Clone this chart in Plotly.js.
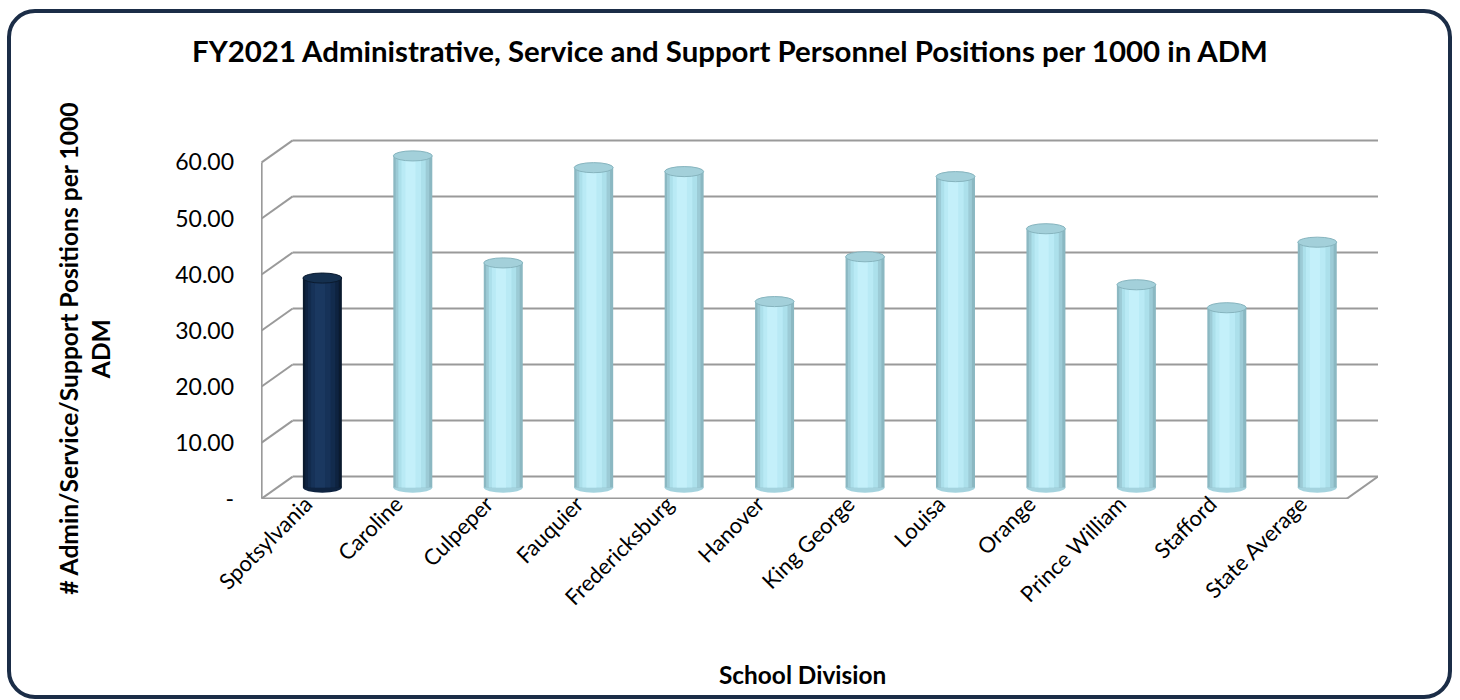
<!DOCTYPE html>
<html>
<head>
<meta charset="utf-8">
<script src="https://cdn.plot.ly/plotly-3.0.1.min.js"></script>
<style>
  html, body { margin: 0; padding: 0; background: #ffffff; }
  #wrap { position: relative; width: 1460px; height: 700px; }
  #chart { width: 1460px; height: 700px; }
  #frame { position: absolute; left: 7px; top: 9px; width: 1437px; height: 682px;
           border: 4px solid #1b2d47; border-radius: 28px; pointer-events: none; }
</style>
</head>
<body>
<div id="wrap"><div id="chart"></div><div id="frame"></div></div>
<script>
// ---- data ----
const categories = ['Spotsylvania', 'Caroline', 'Culpeper', 'Fauquier', 'Fredericksburg', 'Hanover',
                    'King George', 'Louisa', 'Orange', 'Prince William', 'Stafford', 'State Average'];
const positionsPer1000 = [37.4, 59.2, 40.1, 57.1, 56.4, 33.2, 41.2, 55.5, 46.2, 36.2, 32.1, 43.8];
const tickValues = [0, 10, 20, 30, 40, 50, 60];
const tickLabels = ['-', '10.00', '20.00', '30.00', '40.00', '50.00', '60.00'];
const highlighted = 'Spotsylvania';
const chartTitle = 'FY2021 Administrative, Service and Support Personnel Positions per 1000 in ADM';
const yTitle = '# Admin/Service/Support Positions per 1000<br>ADM';
const xTitle = 'School Division';

// ---- 3-D look (styling only) ----
const DEPTH_X = -0.343;   // category units, back wall -> front edge
const DEPTH_Y = -3.93;    // value units, back wall -> front edge
const MID_X = DEPTH_X / 2, MID_Y = DEPTH_Y / 2;
const BAR_W = 0.431;
const CAP_H = 0.9;
const FONT = 'Lato, "Open Sans", sans-serif';

const isHi = categories.map(c => c === highlighted);
const slices = [
  { f: 1.00, c: -0.00, light: '#8bb8c2', dark: '#0a1a2e' },
  { f: 0.86, c: -0.01, light: '#9ccbd6', dark: '#0e2340' },
  { f: 0.70, c: -0.02, light: '#ace0eb', dark: '#122b4d' },
  { f: 0.50, c: -0.04, light: '#b9eaf5', dark: '#163258' },
  { f: 0.26, c: -0.06, light: '#c4f0fa', dark: '#1a3860' }
];

const traces = slices.map(s => ({
  type: 'bar',
  x: categories,
  y: positionsPer1000,
  base: MID_Y,
  width: BAR_W * s.f,
  offset: MID_X + s.c * BAR_W - BAR_W * s.f / 2,
  marker: { color: isHi.map(h => h ? s.dark : s.light), line: { width: 0 } },
  hoverinfo: 'skip',
  showlegend: false
}));

const shapes = [];
const lineStyle = { color: '#9a9a9a', width: 2 };
// back-wall gridlines and left-wall diagonals
tickValues.forEach(t => {
  shapes.push({ type: 'line', xref: 'x', yref: 'y', x0: -0.5, x1: 11.5, y0: t, y1: t, line: lineStyle, layer: 'below' });
  shapes.push({ type: 'line', xref: 'x', yref: 'y', x0: -0.5 + DEPTH_X, x1: -0.5, y0: t + DEPTH_Y, y1: t, line: lineStyle, layer: 'below' });
});
// front-left vertical edge
shapes.push({ type: 'line', xref: 'x', yref: 'y', x0: -0.5 + DEPTH_X, x1: -0.5 + DEPTH_X,
  y0: tickValues[0] + DEPTH_Y, y1: tickValues[tickValues.length - 1] + DEPTH_Y, line: lineStyle, layer: 'below' });
// floor front edge and right diagonal
shapes.push({ type: 'line', xref: 'x', yref: 'y', x0: -0.5 + DEPTH_X, x1: 11.5 + DEPTH_X,
  y0: DEPTH_Y, y1: DEPTH_Y, line: lineStyle, layer: 'below' });
shapes.push({ type: 'line', xref: 'x', yref: 'y', x0: 11.5 + DEPTH_X, x1: 11.5,
  y0: DEPTH_Y, y1: 0, line: lineStyle, layer: 'below' });

// cylinder ends
positionsPer1000.forEach((v, i) => {
  const cx = i + MID_X;
  shapes.push({ type: 'circle', xref: 'x', yref: 'y', layer: 'between',
    x0: cx - BAR_W / 2, x1: cx + BAR_W / 2, y0: MID_Y - CAP_H, y1: MID_Y + CAP_H,
    fillcolor: isHi[i] ? '#0e2340' : '#a4d3de', line: { width: 0 } });
  shapes.push({ type: 'circle', xref: 'x', yref: 'y', layer: 'above',
    x0: cx - BAR_W / 2, x1: cx + BAR_W / 2, y0: MID_Y + v - CAP_H, y1: MID_Y + v + CAP_H,
    fillcolor: isHi[i] ? '#15304f' : '#a3d0da', line: { color: isHi[i] ? '#0a1a2e' : '#86b4be', width: 1 } });
});

const PLOT_L = 261, PLOT_R = 1378, PLOT_T = 118.3, PLOT_B = 499.1;
const px2x = p => (p - PLOT_L) / (PLOT_R - PLOT_L);
const px2y = p => (PLOT_B - p) / (PLOT_B - PLOT_T);

const layout = {
  width: 1460, height: 700,
  margin: { l: PLOT_L, r: 1460 - PLOT_R, t: PLOT_T, b: 700 - PLOT_B, pad: 0 },
  paper_bgcolor: 'rgba(0,0,0,0)', plot_bgcolor: 'rgba(0,0,0,0)',
  barmode: 'overlay',
  showlegend: false,
  font: { family: FONT, color: '#000000' },
  title: { text: '<b>' + chartTitle + '</b>', font: { family: FONT, size: 29.4, color: '#000' },
           x: 0.5, xref: 'container', y: 1 - 52 / 700, yref: 'container', yanchor: 'middle' },
  xaxis: {
    type: 'category', range: [-0.85, 11.5], showgrid: false, zeroline: false, showline: false,
    ticks: '', tickangle: -45, tickfont: { family: FONT, size: 22, color: '#000' },
    ticklabelshift: -32, ticklabelstandoff: -13, fixedrange: true
  },
  yaxis: {
    range: [-4, 64], showgrid: false, zeroline: false, showline: false, ticks: '',
    tickvals: tickValues, ticktext: tickLabels, tickfont: { family: FONT, size: 23, color: '#000' },
    ticklabelshift: 22, ticklabelstandoff: 26, fixedrange: true
  },
  shapes: shapes,
  annotations: [
    { text: '<b>' + yTitle + '</b>', xref: 'paper', yref: 'paper', x: px2x(85), y: px2y(349),
      textangle: -90, showarrow: false, font: { family: FONT, size: 24.6, color: '#000' }, xanchor: 'center', yanchor: 'middle' },
    { text: '<b>' + xTitle + '</b>', xref: 'paper', yref: 'paper', x: px2x(802), y: px2y(675),
      showarrow: false, font: { family: FONT, size: 24.4, color: '#000' }, xanchor: 'center', yanchor: 'middle' }
  ]
};

Plotly.newPlot('chart', traces, layout, { displayModeBar: false, staticPlot: true });
</script>
</body>
</html>
